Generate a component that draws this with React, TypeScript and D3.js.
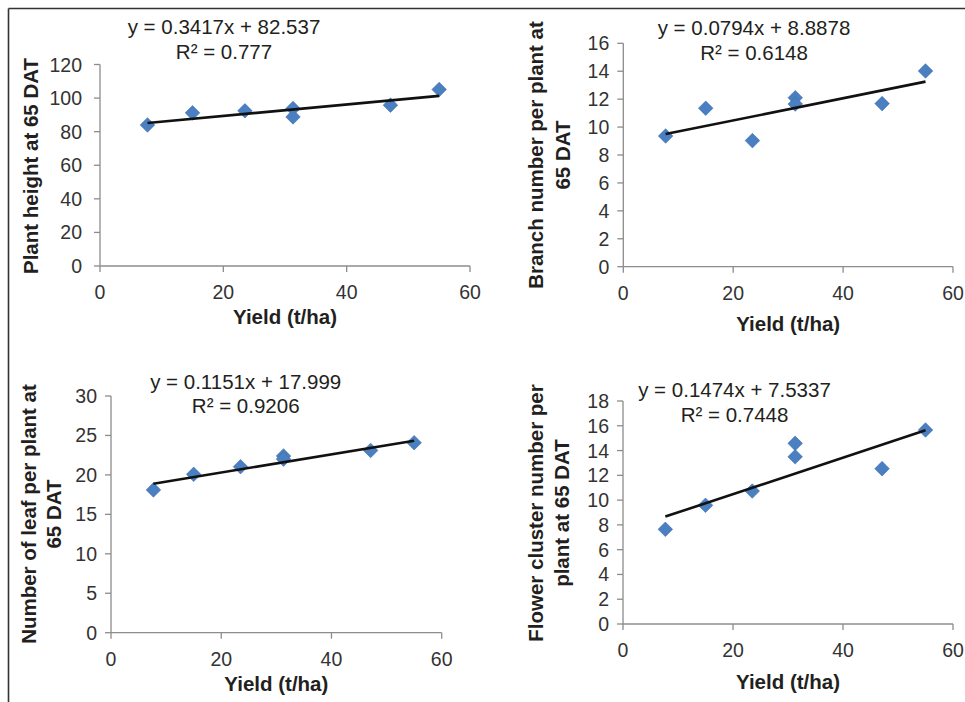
import * as d3 from "d3";

// yield (t/ha) shared by all four panels
const yieldValues = [7.7, 15, 23.5, 31.3, 31.3, 47.1, 55];

const plantHeight = [84, 91.2, 92.4, 93.8, 88.8, 95.8, 105.1];
const branchNumber = [9.36, 11.35, 9.03, 12.1, 11.65, 11.68, 14.02];
const leafNumber = [18.1, 20.07, 21.04, 22.4, 22.0, 23.1, 24.08];
const flowerCluster = [7.64, 9.58, 10.73, 14.58, 13.5, 12.54, 15.66];

const slopes = [0.3417, 0.0794, 0.1151, 0.1474];
const intercepts = [82.537, 8.8878, 17.999, 7.5337];
const equations = [
  "y = 0.3417x + 82.537",
  "y = 0.0794x + 8.8878",
  "y = 0.1151x + 17.999",
  "y = 0.1474x + 7.5337",
];
const rSquared = ["R² = 0.777", "R² = 0.6148", "R² = 0.9206", "R² = 0.7448"];

const yLabels = [
  ["Plant height at 65 DAT"],
  ["Branch number per plant at", "65 DAT"],
  ["Number of leaf per plant at", "65 DAT"],
  ["Flower cluster number per", "plant at 65 DAT"],
];
const yMax = [120, 16, 30, 18];
const yStep = [20, 2, 5, 2];
const xTicks = [0, 20, 40, 60];
const xTitle = "Yield (t/ha)";

const seriesList = [plantHeight, branchNumber, leafNumber, flowerCluster];

// layout of each panel on the page
const LAYOUT = [
  { left: 100, right: 470, top: 64.5, bottom: 266, eqX: 224, eqY: 34, r2Y: 59, labX: [30], labY: 166, titleY: 316, gap: 18 },
  { left: 623.3, right: 953, top: 43.3, bottom: 266.7, eqX: 754, eqY: 35, r2Y: 60, labX: [535, 562], labY: 155, titleY: 323, gap: 14 },
  { left: 111, right: 441.7, top: 396, bottom: 632.7, eqX: 245.7, eqY: 389, r2Y: 413, labX: [28, 53], labY: 514, titleY: 683, gap: 14 },
  { left: 623, right: 953, top: 401, bottom: 624, eqX: 734.5, eqY: 397, r2Y: 421.7, labX: [535, 561.7], labY: 513, titleY: 681.7, gap: 14 },
];

const FONT = "'Liberation Sans', Arial, sans-serif";
const AXIS = "#8c8c8c";
const TEXT = "#231f20";
const MARK = "#4a7fc1";

const Panel = ({ i }: { i: number }) => {
  const L = LAYOUT[i];
  const ys = seriesList[i];
  const x = d3.scaleLinear().domain([0, 60]).range([L.left, L.right]);
  const y = d3.scaleLinear().domain([0, yMax[i]]).range([L.bottom, L.top]);
  const yTicks = d3.range(0, yMax[i] + yStep[i] / 2, yStep[i]);

  const xMin = d3.min(yieldValues)!;
  const xMaxV = d3.max(yieldValues)!;
  const trend = d3
    .line<number>()
    .x((d) => x(d))
    .y((d) => y(slopes[i] * d + intercepts[i]))([xMin, xMaxV]);

  const diamond = d3.symbol(d3.symbolDiamond2, 135)()!;

  return (
    <g fontFamily={FONT}>
      {/* axes */}
      <line x1={L.left} x2={L.left} y1={y(yMax[i])} y2={L.bottom} stroke={AXIS} strokeWidth={1.3} />
      <line x1={L.left} x2={L.right} y1={L.bottom} y2={L.bottom} stroke={AXIS} strokeWidth={1.3} />
      {yTicks.map((t) => (
        <g key={"y" + t}>
          <line x1={L.left - 6} x2={L.left} y1={y(t)} y2={y(t)} stroke={AXIS} strokeWidth={1.3} />
          <text x={L.left - L.gap} y={y(t)} textAnchor="end" dominantBaseline="central" fontSize={19.5} fill="#333">
            {t}
          </text>
        </g>
      ))}
      {xTicks.map((t) => (
        <g key={"x" + t}>
          <line x1={x(t)} x2={x(t)} y1={L.bottom} y2={L.bottom + 6} stroke={AXIS} strokeWidth={1.3} />
          <text x={x(t)} y={L.bottom + 26} textAnchor="middle" dominantBaseline="central" fontSize={19.5} fill="#333">
            {t}
          </text>
        </g>
      ))}

      {/* points */}
      {yieldValues.map((v, k) => (
        <path
          key={k}
          d={diamond}
          transform={`translate(${x(v)},${y(ys[k])})`}
          fill={MARK}
          stroke="#3d6fae"
          strokeWidth={0.6}
        />
      ))}
      <path d={trend!} stroke="#111" strokeWidth={2.6} fill="none" />

      {/* equation */}
      <text x={L.eqX} y={L.eqY} textAnchor="middle" fontSize={20.5} fill={TEXT}>
        {equations[i]}
      </text>
      <text x={L.eqX} y={L.r2Y} textAnchor="middle" fontSize={20.5} fill={TEXT}>
        {rSquared[i]}
      </text>

      {/* titles */}
      <text x={(L.left + L.right) / 2} y={L.titleY} textAnchor="middle" dominantBaseline="central" fontSize={20.5} fontWeight="bold" fill={TEXT}>
        {xTitle}
      </text>
      {yLabels[i].map((s, k) => (
        <text
          key={k}
          transform={`translate(${L.labX[k]},${L.labY}) rotate(-90)`}
          textAnchor="middle"
          dominantBaseline="central"
          fontSize={20.5}
          fontWeight="bold"
          fill={TEXT}
        >
          {s}
        </text>
      ))}
    </g>
  );
};

export default function App() {
  return (
    <svg
      width={965}
      height={702}
      style={{ position: "fixed", left: 0, top: 0, background: "#fff" }}
    >
      <rect width={965} height={702} fill="#fff" />
      <line x1={8.5} x2={965} y1={8.5} y2={8.5} stroke="#333" strokeWidth={1.6} />
      <line x1={8.5} x2={8.5} y1={8.5} y2={702} stroke="#333" strokeWidth={1.6} />
      {LAYOUT.map((_, i) => (
        <Panel key={i} i={i} />
      ))}
    </svg>
  );
}
